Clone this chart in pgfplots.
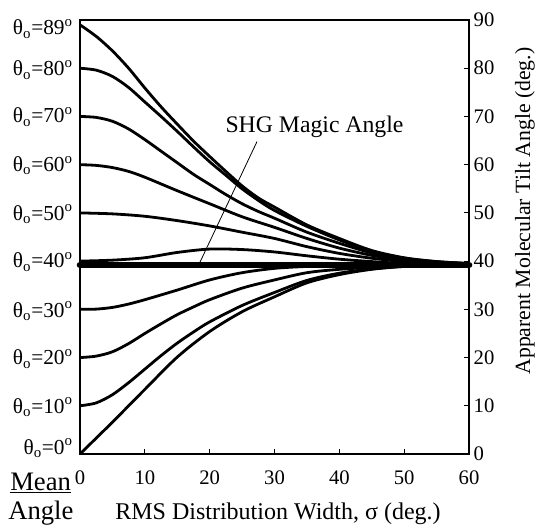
\documentclass[border=0pt]{standalone}
\usepackage{fontspec}
\setmainfont{Liberation Serif}
\usepackage{pgfplots}
\pgfplotsset{compat=1.18}

% label at the left edge: theta_o = value (degree written as a raised o)
\newcommand{\thlab}[1]{θ\textsubscript{o}=#1\textsuperscript{o}}

\begin{document}
\begin{tikzpicture}
\begin{axis}[
  scale only axis, width=291.75pt, height=325.5pt,
  xmin=0, xmax=60, ymin=0, ymax=90,
  xtick={0,10,...,60}, ytick={0,10,...,90},
  xtick pos=left, ytick pos=right, yticklabel pos=right,
  tick align=inside, major tick length=4pt,
  axis line style={line width=0.9pt},
  tick style={line width=0.8pt, black},
  tick label style={font=\fontsize{15.5}{18}\selectfont},
  /pgf/number format/assume math mode=true,
  xticklabel style={anchor=base, yshift=-23pt},
  clip=false,
]
% theta_o = 89
\addplot[black, line width=2.1pt, smooth] coordinates {
  (0,89) (2.5,86.6) (5,83.6) (7.5,80) (10,75.9) (12.5,72) (15,68.4) (17.5,64.9)
  (20,61.7) (22.5,58.6) (25,55.6) (27.5,53.1) (30,51.2) (35,47.5) (40,44.7)
  (45,42.2) (50,40.7) (55,39.9) (60,39.5)};
% theta_o = 80
\addplot[black, line width=2.1pt, smooth] coordinates {
  (0,80) (2.5,79.6) (5,78.3) (7.5,76) (10,73) (12.5,70) (15,66.9) (17.5,63.7)
  (20,60.6) (22.5,57.8) (25,55) (27.5,52.6) (30,50.5) (35,47.2) (40,44.4)
  (45,42) (50,40.6) (55,39.9) (60,39.5)};
% theta_o = 70
\addplot[black, line width=2.1pt, smooth] coordinates {
  (0,70) (2.5,69.8) (5,69) (7.5,67.4) (10,65.2) (12.5,62.8) (15,60.4) (17.5,58)
  (20,55.9) (22.5,53.8) (25,51.9) (27.5,50.3) (30,48.9) (35,46) (40,43.7)
  (45,41.7) (50,40.4) (55,39.8) (60,39.5)};
% theta_o = 60
\addplot[black, line width=2.1pt, smooth] coordinates {
  (0,60) (2.5,59.85) (5,59.4) (7.5,58.6) (10,57.4) (15,54.6) (20,51.9) (25,49.2)
  (30,47) (35,44.7) (40,42.7) (45,41.2) (50,40.2) (55,39.6) (60,39.4)};
% theta_o = 50
\addplot[black, line width=2.1pt, smooth] coordinates {
  (0,50) (5,49.8) (10,49.3) (15,48.4) (20,47.3) (25,46) (30,44.7) (35,43)
  (40,41.6) (45,40.6) (50,39.9) (55,39.5) (60,39.3)};
% theta_o = 40
\addplot[black, line width=2.1pt, smooth] coordinates {
  (0,40) (5,40.2) (10,40.7) (15,41.8) (20,42.5) (25,42.4) (30,41.9) (35,41.1)
  (40,40.4) (45,39.9) (50,39.5) (55,39.3) (60,39.2)};
% theta_o = 30
\addplot[black, line width=2.1pt, smooth] coordinates {
  (0,30) (2.5,30.05) (5,30.4) (7.5,31.1) (10,32) (15,34) (20,36.1) (25,37.6)
  (30,38.5) (35,38.9) (40,39.1) (45,39.2) (50,39.2) (55,39.2) (60,39.2)};
% theta_o = 20
\addplot[black, line width=2.1pt, smooth] coordinates {
  (0,20) (2.5,20.3) (5,21.2) (7.5,22.9) (10,25) (12.5,27) (15,28.9) (17.5,30.5)
  (20,32) (25,34.4) (30,36.1) (35,37.6) (40,38.3) (45,38.7) (50,39) (55,39.1)
  (60,39.2)};
% theta_o = 10
\addplot[black, line width=2.1pt, smooth] coordinates {
  (0,10) (2.5,10.6) (5,12.3) (7.5,14.8) (10,17.6) (12.5,20.4) (15,23) (17.5,25.3)
  (20,27.4) (25,30.8) (30,33.5) (35,36) (40,37.5) (45,38.4) (50,38.9) (55,39.1)
  (60,39.2)};
% theta_o = 0
\addplot[black, line width=2.1pt, smooth] coordinates {
  (0,0) (2.5,3.3) (5,6.6) (7.5,10) (10,13.4) (15,20.1) (20,25.4) (25,29.5)
  (30,32.6) (35,35.5) (40,37.2) (45,38.3) (50,38.9) (55,39.1) (60,39.2)};
% SHG magic angle
\addplot[black, line width=5pt, line cap=round] coordinates {(0,39.2) (60,39.2)};

\draw[line width=0.6pt] (axis cs:27.3,64.8) -- (axis cs:18.3,39.2);
\node[anchor=base west, inner sep=0, font=\fontsize{17.8}{20}\selectfont]
  at (axis cs:22.4,66.6) {SHG Magic Angle};

\begin{scope}[every node/.style={anchor=base east, inner sep=0, xshift=-5.25pt,
    font=\fontsize{16}{19}\selectfont}]
  \node at (axis cs:0,86.9) {\thlab{89}};
  \node at (axis cs:0,78.4) {\thlab{80}};
  \node at (axis cs:0,68.7) {\thlab{70}};
  \node at (axis cs:0,58.6) {\thlab{60}};
  \node at (axis cs:0,48.5) {\thlab{50}};
  \node at (axis cs:0,38.6) {\thlab{40}};
  \node at (axis cs:0,28.4) {\thlab{30}};
  \node at (axis cs:0,18.5) {\thlab{20}};
  \node at (axis cs:0,8.5) {\thlab{10}};
  \node at (axis cs:0,0) {\thlab{0}};
\end{scope}

\node[anchor=base west, inner sep=0, font=\fontsize{20}{24}\selectfont]
  at (rel axis cs:-0.18,-0.083) {\underline{Mean}};
\node[anchor=base west, inner sep=0, font=\fontsize{20}{24}\selectfont]
  at (rel axis cs:-0.185,-0.1498) {Angle};
\node[anchor=base, inner sep=0, font=\fontsize{18}{21}\selectfont]
  at (rel axis cs:0.509,-0.152) {RMS Distribution Width, σ (deg.)};
\node[rotate=90, inner sep=0, font=\fontsize{16.3}{19}\selectfont]
  at (rel axis cs:1.144,0.56) {Apparent Molecular Tilt Angle (deg.)};

% page frame matching the reference canvas
\path (rel axis cs:-0.2057,-0.1636) rectangle (rel axis cs:1.1799,1.0461);
\end{axis}
\end{tikzpicture}
\end{document}
